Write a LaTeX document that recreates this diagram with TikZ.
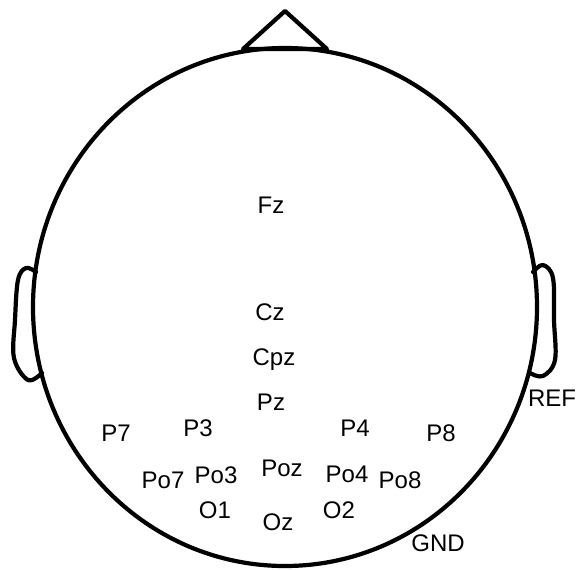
\documentclass[tikz,border=0pt]{standalone}
\usepackage{fontspec}
\setmainfont{Liberation Sans}
\begin{document}
\begin{tikzpicture}[x=1pt,y=-1pt,
  headline/.style={line width=4.2pt, line join=round, line cap=round},
  elec/.style={font=\fontsize{24}{24}\selectfont, inner sep=0pt}]
\useasboundingbox (0,0) rectangle (576,570);
% head
\draw[headline] (285,307) ellipse [x radius=252, y radius=259];
% nose
\draw[headline] (243,49) -- (285,11) -- (327,49) -- cycle;
% left ear
\draw[headline] plot[smooth, tension=0.6] coordinates {(36,272) (26,268) (18,280) (15,320) (14,358) (28,380) (42,373)};
% right ear
\draw[headline] plot[smooth, tension=0.6] coordinates {(533,272) (543,265) (553,278) (554,320) (555,360) (543,376) (530,373)};
% electrodes
\node[elec] (Fz) at (271,205) {Fz};
\node[elec] (Cz) at (270,312) {Cz};
\node[elec] (Cpz) at (274,360) {Cpz};
\node[elec] (Pz) at (271,402) {Pz};
\node[elec] (P7) at (116,433) {P7};
\node[elec] (P3) at (198,428) {P3};
\node[elec] (P4) at (355,428) {P4};
\node[elec] (P8) at (441,433) {P8};
\node[elec] (Po7) at (163,480) {Po7};
\node[elec] (Po3) at (216,475) {Po3};
\node[elec] (Poz) at (282,468) {Poz};
\node[elec] (Po4) at (347,474) {Po4};
\node[elec] (Po8) at (400,480) {Po8};
\node[elec] (O1) at (215,510) {O1};
\node[elec] (Oz) at (278,522) {Oz};
\node[elec] (O2) at (339,510) {O2};
\node[elec] (GND) at (438,543) {GND};
\node[elec] (REF) at (552,398) {REF};
\end{tikzpicture}
\end{document}
